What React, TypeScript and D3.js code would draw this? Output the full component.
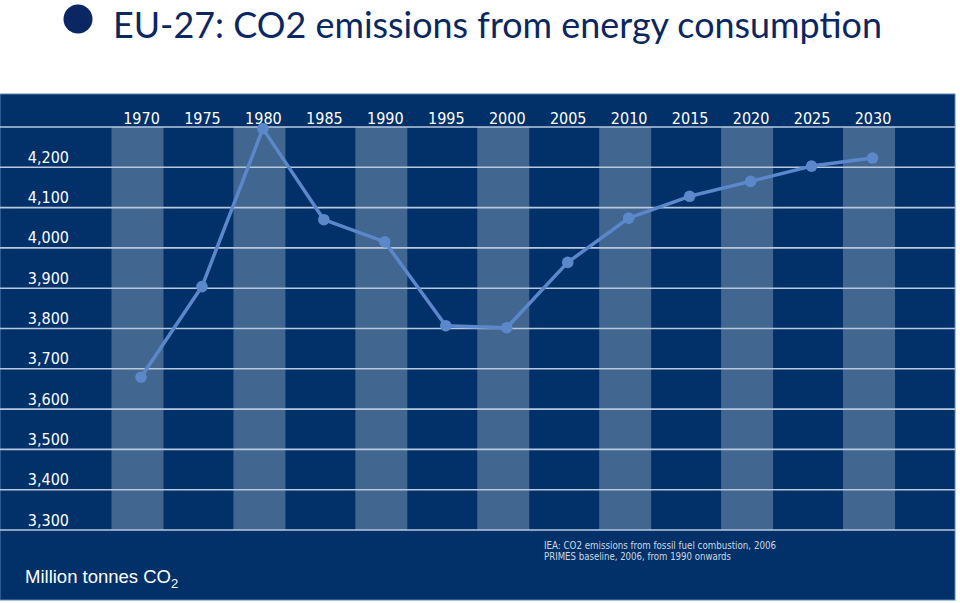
import React from "react";
import * as d3 from "d3";

const years: number[] = [1970, 1975, 1980, 1985, 1990, 1995, 2000, 2005, 2010, 2015, 2020, 2025, 2030];
const emissions: number[] = [3679, 3904, 4296, 4070, 4015, 3807, 3802, 3964, 4074, 4128, 4165, 4203, 4223];
const yTickValues: number[] = [4200, 4100, 4000, 3900, 3800, 3700, 3600, 3500, 3400, 3300];
const gridValues: number[] = [4300, 4200, 4100, 4000, 3900, 3800, 3700, 3600, 3500, 3400, 3300];
const shadedYears: number[] = [1970, 1980, 1990, 2000, 2010, 2020, 2030];
const title = "EU-27: CO2 emissions from energy consumption";
const unitLabel = "Million tonnes CO";
const sourceLines: string[] = [
  "IEA: CO2 emissions from fossil fuel combustion, 2006",
  "PRIMES baseline, 2006, from 1990 onwards",
];

const W = 960;
const H = 603;
const panel = { x: 0, y: 94, w: 955, h: 506 };

export default function App() {
  const x = d3.scaleLinear().domain([1970, 2030]).range([141, 872.5]);
  const y = d3.scaleLinear().domain([3300, 4300]).range([530, 127]);
  const fmt = d3.format(",");
  const line = d3
    .line<number>()
    .x((_, i) => x(years[i]))
    .y((d) => y(d));

  const tickFont = "'DejaVu Sans Condensed', 'DejaVu Sans', sans-serif";

  return (
    <svg
      width={W}
      height={H}
      viewBox={`0 0 ${W} ${H}`}
      style={{ position: "absolute", left: 0, top: 0, background: "#ffffff" }}
    >
      {/* title */}
      <circle cx={78} cy={19} r={14.5} fill="#0a2763" />
      <text
        x={113}
        y={38}
        fill="#0a2763"
        fontFamily="Lato, 'Open Sans', sans-serif"
        fontSize={37}
        textLength={769}
        lengthAdjust="spacingAndGlyphs"
      >
        {title}
      </text>

      {/* panel */}
      <rect x={panel.x} y={panel.y} width={panel.w} height={panel.h} fill="#013168" stroke="#5a82b4" strokeWidth={1} />

      {/* shaded columns */}
      {shadedYears.map((yr) => (
        <rect
          key={yr}
          x={x(yr) - 29.5}
          y={y(4300)}
          width={52}
          height={y(3300) - y(4300)}
          fill="#41668f"
        />
      ))}

      {/* gridlines */}
      {gridValues.map((v) => (
        <line
          key={v}
          x1={panel.x}
          x2={panel.x + panel.w}
          y1={y(v)}
          y2={y(v)}
          stroke="#b9c8dc"
          strokeWidth={1.6}
        />
      ))}

      {/* y tick labels */}
      {yTickValues.map((v) => (
        <text
          key={v}
          x={69}
          y={y(v) - 4.5}
          textAnchor="end"
          fill="#ffffff"
          fontFamily={tickFont}
          fontSize={16}
          style={{ fontStretch: "condensed" }}
        >
          {fmt(v)}
        </text>
      ))}

      {/* x tick labels */}
      {years.map((yr) => (
        <text
          key={yr}
          x={x(yr) + 0.5}
          y={123.5}
          textAnchor="middle"
          fill="#ffffff"
          fontFamily={tickFont}
          fontSize={16}
          style={{ fontStretch: "condensed" }}
        >
          {yr}
        </text>
      ))}

      {/* series */}
      <path d={line(emissions) || ""} fill="none" stroke="#5b88cb" strokeWidth={3.5} strokeLinejoin="round" />
      {emissions.map((v, i) => (
        <circle key={years[i]} cx={x(years[i])} cy={y(v)} r={5.8} fill="#5b88cb" />
      ))}

      {/* unit label */}
      <text x={25} y={583} fill="#ffffff" fontFamily="'Liberation Sans', Arial, sans-serif" fontSize={18.5}>
        {unitLabel}
        <tspan fontSize={13} dy={5}>2</tspan>
      </text>

      {/* source */}
      {sourceLines.map((s, i) => (
        <text
          key={i}
          x={544}
          y={549 + i * 10.5}
          fill="#d0d7e2"
          fontFamily={tickFont}
          fontSize={10.5}
          textLength={i === 0 ? 232 : 187}
          lengthAdjust="spacingAndGlyphs"
        >
          {s}
        </text>
      ))}
    </svg>
  );
}
